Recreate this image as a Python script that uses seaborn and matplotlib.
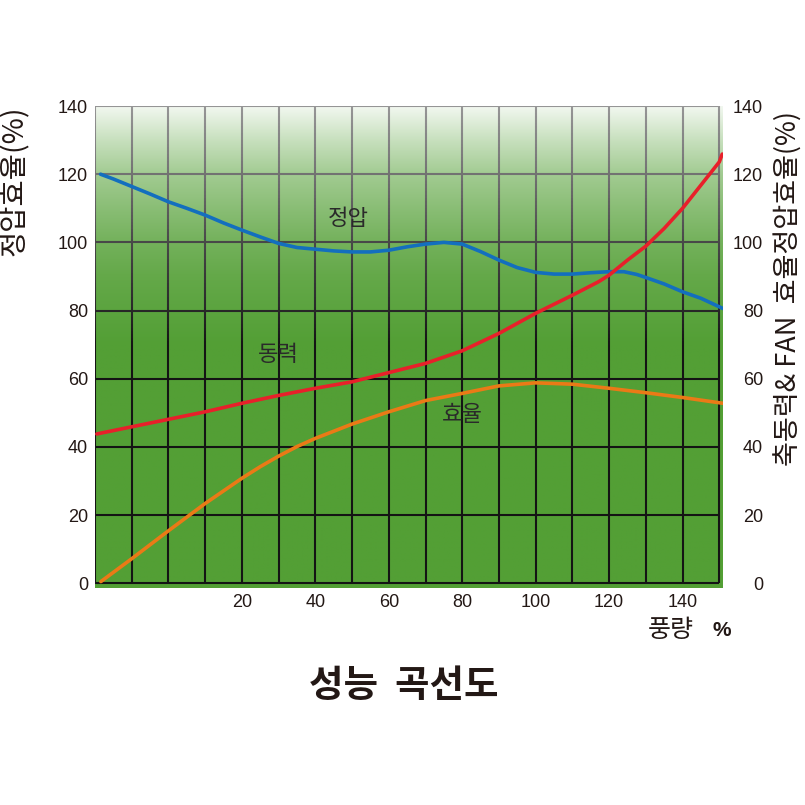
import numpy as np
import pandas as pd
import matplotlib
matplotlib.use("Agg")
import matplotlib.pyplot as plt
from matplotlib.collections import LineCollection
import seaborn as sns

# ---------------- data ----------------
pressure_x = [-18.5, -15, -10, -5, 0, 5, 10, 15, 20, 25, 30, 35, 40, 45, 50, 55, 60, 65, 70, 75, 80, 85, 90, 95,
              100, 105, 110, 115, 120, 124, 127.5, 130, 135, 140, 145, 151]
pressure_y = [120.0, 118.6, 116.4, 114.2, 111.9, 110.0, 108.0, 105.7, 103.6, 101.6, 99.7, 98.5, 98.0, 97.5, 97.2,
              97.2, 97.7, 98.7, 99.5, 100.0, 99.5, 97.3, 94.8, 92.6, 91.2, 90.7, 90.7, 91.1, 91.4, 91.4, 90.6,
              89.7, 87.8, 85.5, 83.6, 80.6]

power_x = [-19.5, -10, 0, 10, 20, 30, 40, 50, 60, 70, 80, 90, 100, 110, 117.2, 120, 125, 130, 135, 140, 145, 150, 150.8]
power_y = [43.8, 45.9, 48.1, 50.3, 52.8, 55.1, 57.2, 59.1, 61.8, 64.5, 68.2, 73.3, 79.2, 84.5, 88.5, 90.4, 94.8,
           98.9, 104.1, 110.0, 116.8, 123.6, 125.9]

eff_x = [-18.4, -10, 0, 10, 20, 25, 30, 35, 40, 50, 60, 70, 80, 90, 100, 110, 120, 130, 140, 151]
eff_y = [0.5, 7.2, 15.4, 23.4, 30.8, 34.2, 37.3, 40.1, 42.5, 46.7, 50.3, 53.6, 55.7, 57.9, 58.8, 58.4, 57.2, 55.9, 54.5, 52.8]

x_ticks = [20, 40, 60, 80, 100, 120, 140]
y_ticks = [0, 20, 40, 60, 80, 100, 120, 140]
x_grid = list(range(-20, 151, 10))
y_grid = list(range(0, 141, 20))

curve_labels = ["정압", "동력", "효율"]
curve_label_pos = [(49, 107), (30, 67), (80, 49.5)]

title = "성능  곡선도"
xlabel = "풍량"
ylabel_left = "정압효율(%)"
ylabel_right = "축동력& FAN  효율정압효율(%)"

# ---------------- styling ----------------
sns.set_theme(style="white")
plt.rcParams["font.family"] = ["Noto Sans CJK KR", "DejaVu Sans"]
TXT = "#231815"
GREEN = np.array([0x53, 0x9f, 0x35]) / 255.0
BLUE = "#136fbe"
RED = "#e8202a"
ORANGE = "#ea7a16"

fig = plt.figure(figsize=(8.05, 8.05), dpi=100)
fig.patch.set_facecolor("white")
XMIN, XMAX, YMIN, YMAX = -20, 151, -1.47, 140
ax = fig.add_axes([0.1180, 0.2692, 0.7801, 0.5991])
ax.set_xlim(XMIN, XMAX)
ax.set_ylim(YMIN, YMAX)

# background gradient (white -> green from top)
bg_knots_y = [-2, 70, 80, 90, 100, 110, 120, 130, 140]
bg_knots_w = [0.0, 0.0, 0.05, 0.10, 0.19, 0.32, 0.46, 0.68, 0.93]
ys = np.linspace(YMIN, YMAX, 400)
w = np.interp(ys, bg_knots_y, bg_knots_w)
col = (1 - w)[:, None] * GREEN[None, :] + w[:, None] * np.ones(3)[None, :]
img = np.repeat(col[:, None, :], 2, axis=1)
ax.imshow(img, extent=(XMIN, XMAX, YMIN, YMAX), origin="lower", aspect="auto", zorder=0,
          interpolation="bilinear")

# grid lines with fade
ln_knots_y = [-2, 70, 80, 100, 120, 140]
ln_knots_w = [0.0, 0.0, 0.08, 0.22, 0.40, 0.55]
LINE = np.array([0.08, 0.08, 0.08])

def line_color(yv):
    ww = np.interp(yv, ln_knots_y, ln_knots_w)
    return tuple((1 - ww) * LINE + ww * np.ones(3))

segs, cols = [], []
yy = np.linspace(0, 140, 141)
for gx in x_grid:
    for i in range(len(yy) - 1):
        segs.append([(gx, yy[i]), (gx, yy[i + 1])])
        cols.append(line_color((yy[i] + yy[i + 1]) / 2))
for gy in y_grid:
    segs.append([(-20, gy), (150, gy)])
    cols.append(line_color(gy))
lc = LineCollection(segs, colors=cols, linewidths=1.5, zorder=1, capstyle="butt")
ax.add_collection(lc)

# curves
df_p = pd.DataFrame({"x": pressure_x, "y": pressure_y})
df_w = pd.DataFrame({"x": power_x, "y": power_y})
df_e = pd.DataFrame({"x": eff_x, "y": eff_y})
sns.lineplot(data=df_e, x="x", y="y", ax=ax, color=ORANGE, lw=2.6, zorder=3)
sns.lineplot(data=df_w, x="x", y="y", ax=ax, color=RED, lw=2.6, zorder=4)
sns.lineplot(data=df_p, x="x", y="y", ax=ax, color=BLUE, lw=2.6, zorder=3)
for l in ax.get_lines():
    l.set_solid_joinstyle("round")
    l.set_solid_capstyle("round")
ax.set_xlim(XMIN, XMAX)
ax.set_ylim(YMIN, YMAX)

for lab, (lx, ly) in zip(curve_labels, curve_label_pos):
    ax.text(lx, ly, lab, ha="center", va="center", fontsize=16, color="#2a2a2a", zorder=5)

for s in ax.spines.values():
    s.set_visible(False)
ax.grid(False)
ax.set_xlabel("")
ax.set_ylabel("")
ax.set_xticks(x_ticks)
ax.set_xticklabels([str(v) for v in x_ticks], fontsize=13, color=TXT, family=["Liberation Sans"])
ax.set_yticks(y_ticks)
ax.set_yticklabels([str(v) for v in y_ticks], fontsize=13, color=TXT, family=["Liberation Sans"])
ax.tick_params(axis="both", length=0)
ax.tick_params(axis="x", pad=4)
ax.tick_params(axis="y", pad=5)

ax2 = ax.twinx()
ax2.set_ylim(YMIN, YMAX)
ax2.set_yticks(y_ticks)
ax2.set_yticklabels([str(v) for v in y_ticks], fontsize=13, color=TXT, family=["Liberation Sans"])
ax2.tick_params(axis="y", length=0, pad=29)
for t in ax2.get_yticklabels():
    t.set_horizontalalignment("right")
for s in ax2.spines.values():
    s.set_visible(False)
ax2.grid(False)

# labels
fig.text(15 / 805, 1 - 181 / 805, ylabel_left, rotation=90, ha="center", va="center",
         fontsize=20.5, color=TXT)
fig.text(789 / 805, 1 - 288 / 805, ylabel_right, rotation=90, ha="center", va="center",
         fontsize=19.5, color=TXT)
fig.text(694 / 805, 1 - 630 / 805, xlabel, ha="right", va="center", fontsize=18, color=TXT)
fig.text(712 / 805, 1 - 630 / 805, "%", ha="left", va="center", fontsize=15, color=TXT,
         fontweight="bold", family=["Liberation Sans"])
fig.text(404 / 805, 1 - 685 / 805, title, ha="center", va="center", fontsize=27,
         fontweight="bold", color=TXT)

fig.savefig("out.png", dpi=100, facecolor="white")
